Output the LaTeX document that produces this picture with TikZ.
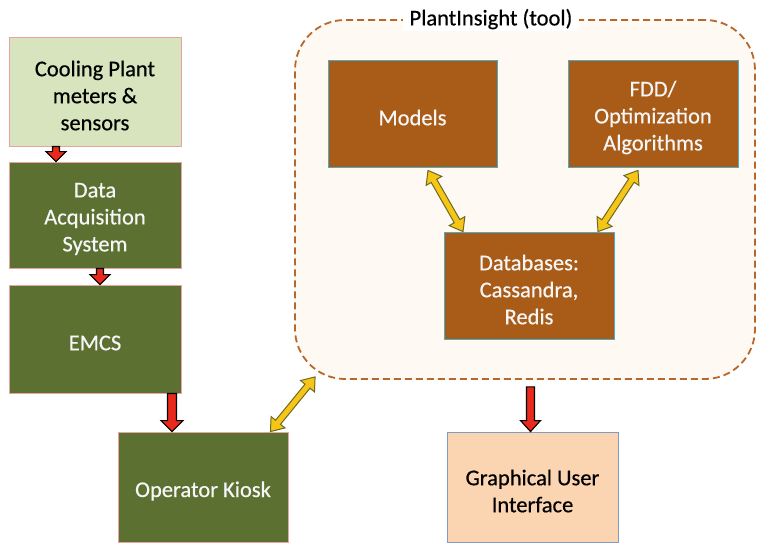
\documentclass[tikz,border=0pt]{standalone}
\usepackage{fontspec}
\setmainfont{Carlito}[FakeBold=0.5]
\usetikzlibrary{calc}

\definecolor{lightolive}{HTML}{D7E4BD}
\definecolor{olive}{HTML}{5B7031}
\definecolor{pinkedge}{HTML}{E8A3A3}
\definecolor{rust}{HTML}{A95B18}
\definecolor{tealedge}{HTML}{4BACC6}
\definecolor{peach}{HTML}{FBD5B2}
\definecolor{blueedge}{HTML}{7E9CC6}
\definecolor{cream}{HTML}{FEF9F2}
\definecolor{dashbrown}{HTML}{B8672A}
\definecolor{arrowred}{HTML}{E8291C}
\definecolor{gold}{HTML}{F6C516}
\definecolor{goldedge}{HTML}{6B6A24}
\definecolor{softwhite}{HTML}{F6F6F6}

% block arrow with one head: style, start, end, half shaft, half head, head length
\newcommand{\onearrow}[6]{%
  \path coordinate (oa-h) at ($(#3)!#6!(#2)$);
  \draw[#1] ($(#2)!#4!90:(#3)$) -- ($(oa-h)!#4!90:(#3)$) -- ($(oa-h)!#5!90:(#3)$)
    -- (#3) -- ($(oa-h)!#5!-90:(#3)$) -- ($(oa-h)!#4!-90:(#3)$)
    -- ($(#2)!#4!-90:(#3)$) -- cycle;
}
% block arrow with heads at both ends
\newcommand{\twoarrow}[6]{%
  \path coordinate (ta-a) at ($(#2)!#6!(#3)$)
        coordinate (ta-b) at ($(#3)!#6!(#2)$);
  \draw[#1] (#2) -- ($(ta-a)!#5!90:(#3)$) -- ($(ta-a)!#4!90:(#3)$)
    -- ($(ta-b)!#4!-90:(#2)$) -- ($(ta-b)!#5!-90:(#2)$) -- (#3)
    -- ($(ta-b)!#5!90:(#2)$) -- ($(ta-b)!#4!90:(#2)$)
    -- ($(ta-a)!#4!-90:(#3)$) -- ($(ta-a)!#5!-90:(#3)$) -- cycle;
}

\begin{document}
\begin{tikzpicture}[x=1pt,y=1pt,
  txt/.style={font=\fontsize{22.5}{27}\selectfont, align=center},
  box/.style={rectangle, inner sep=0pt, line width=0.9pt},
  darktext/.style={label={[txt, yshift=-4pt, text=black]center:{#1}}},
  lighttext/.style={label={[txt, yshift=-4pt, text=softwhite]center:{#1}}},
  plantbox/.style={box, fill=lightolive, draw=pinkedge, darktext={#1}},
  sysbox/.style={box, fill=olive, draw=pinkedge, lighttext={#1}},
  toolbox/.style={box, fill=rust, draw=tealedge, lighttext={#1}},
  guibox/.style={box, fill=peach, draw=blueedge, darktext={#1}},
  redarrow/.style={fill=arrowred, draw=black, line width=1.1pt, line join=miter},
  goldarrow/.style={fill=gold, draw=goldedge, line width=1pt, line join=miter}]

\useasboundingbox (0,0) rectangle (757,542);

% tool container
\node[draw=dashbrown, line width=1.8pt, dash pattern=on 7pt off 4pt, fill=cream,
      rounded corners=50pt, minimum width=460pt, minimum height=359pt, inner sep=0pt]
      (plant) at (525,342.5) {};
\node[txt, fill=white, inner xsep=7pt, inner ysep=2pt] (plantlabel)
      at ([xshift=-34pt]plant.north) {PlantInsight (tool)};

% left column
\node[plantbox={Cooling Plant\\meters \&\\sensors},
      minimum width=172pt, minimum height=109pt] (cool) at (95,450.5) {};
\node[sysbox={Data\\Acquisition\\System},
      minimum width=172pt, minimum height=106pt] (daq) at (95,327) {};
\node[sysbox={EMCS}, minimum width=172pt, minimum height=108pt] (emcs) at (95,203) {};
\node[sysbox={Operator Kiosk}, minimum width=170pt, minimum height=110pt] (kiosk) at (203,55) {};

% tool internals
\node[toolbox={Models}, minimum width=169pt, minimum height=107pt] (models) at (412.5,428.5) {};
\node[toolbox={FDD/\\Optimization\\Algorithms},
      minimum width=170pt, minimum height=107pt] (fdd) at (653,428.5) {};
\node[toolbox={Databases:\\Cassandra,\\Redis},
      minimum width=170pt, minimum height=107pt] (db) at (529,256.5) {};

% user interface
\node[guibox={Graphical User\\Interface},
      minimum width=171pt, minimum height=110pt] (gui) at (532.5,55) {};

% arrow end points
\coordinate (r1a) at ([xshift=-39pt]cool.south);
\coordinate (r1b) at ([xshift=-39pt]daq.north);
\coordinate (r2a) at ([xshift=5pt]daq.south);
\coordinate (r2b) at ([xshift=5pt]emcs.north);
\coordinate (r3a) at ([xshift=77pt]emcs.south);
\coordinate (r3b) at (r3a |- kiosk.north);
\coordinate (r4b) at ([xshift=-2pt]gui.north);
\coordinate (r4a) at ([yshift=-7pt]r4b |- plant.south);

\coordinate (g1a) at ([xshift=-18pt]kiosk.north east);
\coordinate (g1b) at ([shift={(21pt,3pt)}]plant.south west);
\coordinate (g2a) at ([shift={(15.5pt,-3pt)}]models.south);
\coordinate (g2b) at ([xshift=-66pt]db.north);
\coordinate (g3a) at ([shift={(-15pt,-3pt)}]fdd.south);
\coordinate (g3b) at ([xshift=69pt]db.north);

% data flow
\onearrow{redarrow}{r1a}{r1b}{3.5pt}{10pt}{10pt}
\onearrow{redarrow}{r2a}{r2b}{3.5pt}{10pt}{10pt}
\onearrow{redarrow}{r3a}{r3b}{4.5pt}{11pt}{11pt}
\onearrow{redarrow}{r4a}{r4b}{4pt}{10pt}{11pt}

% two-way links
\twoarrow{goldarrow}{g1a}{g1b}{3.2pt}{9pt}{12pt}
\twoarrow{goldarrow}{g2a}{g2b}{3.2pt}{9pt}{12pt}
\twoarrow{goldarrow}{g3a}{g3b}{3.2pt}{9pt}{12pt}

\end{tikzpicture}
\end{document}
